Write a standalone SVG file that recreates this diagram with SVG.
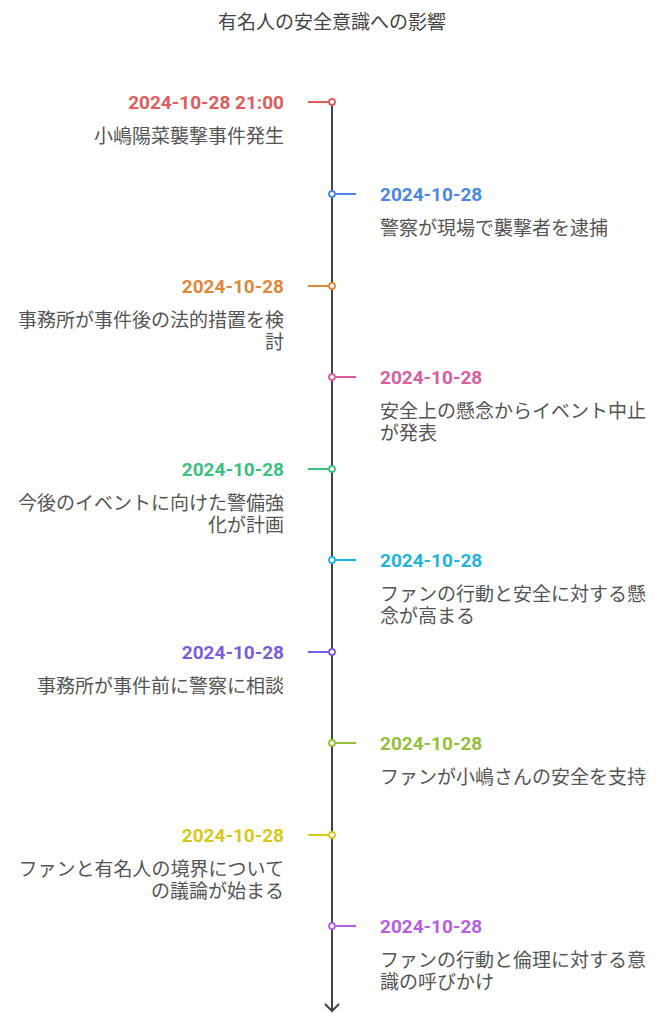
<svg xmlns="http://www.w3.org/2000/svg" width="664" height="1024" viewBox="0 0 664 1024">
<style>
text{font-family:Roboto,"Noto Sans CJK JP",sans-serif}
.t{font-size:19px;fill:#444;text-anchor:middle}
.d{font-size:19px;font-weight:700}
.s{font-size:19px;fill:#555}
.l{text-anchor:end}
.tk{stroke-width:2}
.dot{fill:#fff;stroke-width:1.8}
</style>
<rect width="664" height="1024" fill="#fff"/>
<text class="t" x="332" y="29">有名人の安全意識への影響</text>
<g id="connectors">
<line x1="332" y1="102" x2="332" y2="1011" stroke="#444" stroke-width="2"/>
<polyline points="325,1004 332,1011 339,1004" fill="none" stroke="#444" stroke-width="2"/>
</g>
<g id="n1">
<line class="tk" x1="308" y1="102" x2="329" y2="102" stroke="#E15B5B"/><circle class="dot" cx="332" cy="102" r="3" stroke="#E15B5B"/>
<text class="d l" x="284" y="109" fill="#E15B5B">2024-10-28 21:00</text>
<text class="s l" x="284" y="143">小嶋陽菜襲撃事件発生</text>
</g>
<g id="n2">
<line class="tk" x1="335" y1="194" x2="356" y2="194" stroke="#4A87E8"/><circle class="dot" cx="332" cy="194" r="3" stroke="#4A87E8"/>
<text class="d" x="380" y="201" fill="#4A87E8">2024-10-28</text>
<text class="s" x="380" y="235">警察が現場で襲撃者を逮捕</text>
</g>
<g id="n3">
<line class="tk" x1="308" y1="286" x2="329" y2="286" stroke="#E0883A"/><circle class="dot" cx="332" cy="286" r="3" stroke="#E0883A"/>
<text class="d l" x="284" y="293" fill="#E0883A">2024-10-28</text>
<text class="s l" x="284" y="327">事務所が事件後の法的措置を検</text>
<text class="s l" x="284" y="349">討</text>
</g>
<g id="n4">
<line class="tk" x1="335" y1="377" x2="356" y2="377" stroke="#DB5BA0"/><circle class="dot" cx="332" cy="377" r="3" stroke="#DB5BA0"/>
<text class="d" x="380" y="384" fill="#DB5BA0">2024-10-28</text>
<text class="s" x="380" y="418">安全上の懸念からイベント中止</text>
<text class="s" x="380" y="440">が発表</text>
</g>
<g id="n5">
<line class="tk" x1="308" y1="469" x2="329" y2="469" stroke="#3CC07E"/><circle class="dot" cx="332" cy="469" r="3" stroke="#3CC07E"/>
<text class="d l" x="284" y="476" fill="#3CC07E">2024-10-28</text>
<text class="s l" x="284" y="510">今後のイベントに向けた警備強</text>
<text class="s l" x="284" y="532">化が計画</text>
</g>
<g id="n6">
<line class="tk" x1="335" y1="560" x2="356" y2="560" stroke="#1FB4E0"/><circle class="dot" cx="332" cy="560" r="3" stroke="#1FB4E0"/>
<text class="d" x="380" y="567" fill="#1FB4E0">2024-10-28</text>
<text class="s" x="380" y="601">ファンの行動と安全に対する懸</text>
<text class="s" x="380" y="623">念が高まる</text>
</g>
<g id="n7">
<line class="tk" x1="308" y1="652" x2="329" y2="652" stroke="#7B5CE0"/><circle class="dot" cx="332" cy="652" r="3" stroke="#7B5CE0"/>
<text class="d l" x="284" y="659" fill="#7B5CE0">2024-10-28</text>
<text class="s l" x="284" y="693">事務所が事件前に警察に相談</text>
</g>
<g id="n8">
<line class="tk" x1="335" y1="743" x2="356" y2="743" stroke="#93C23A"/><circle class="dot" cx="332" cy="743" r="3" stroke="#93C23A"/>
<text class="d" x="380" y="750" fill="#93C23A">2024-10-28</text>
<text class="s" x="380" y="784">ファンが小嶋さんの安全を支持</text>
</g>
<g id="n9">
<line class="tk" x1="308" y1="835" x2="329" y2="835" stroke="#D8C81E"/><circle class="dot" cx="332" cy="835" r="3" stroke="#D8C81E"/>
<text class="d l" x="284" y="842" fill="#D8C81E">2024-10-28</text>
<text class="s l" x="284" y="876">ファンと有名人の境界について</text>
<text class="s l" x="284" y="898">の議論が始まる</text>
</g>
<g id="n10">
<line class="tk" x1="335" y1="926" x2="356" y2="926" stroke="#B75FE0"/><circle class="dot" cx="332" cy="926" r="3" stroke="#B75FE0"/>
<text class="d" x="380" y="933" fill="#B75FE0">2024-10-28</text>
<text class="s" x="380" y="967">ファンの行動と倫理に対する意</text>
<text class="s" x="380" y="989">識の呼びかけ</text>
</g>
</svg>
